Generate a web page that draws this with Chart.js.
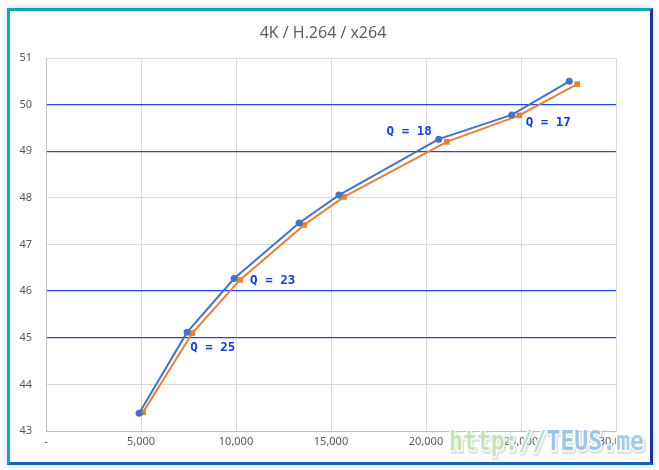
<!DOCTYPE html>
<html>
<head>
<meta charset="utf-8">
<script src="https://cdn.jsdelivr.net/npm/chart.js@4.4.0/dist/chart.umd.min.js"></script>
<style>
  body { margin: 0; background: #fff; }
  #wrap { position: relative; width: 659px; height: 470px; }
  #frame {
    position: absolute; left: 7px; top: 8px; width: 640px; height: 451px;
    border-style: solid; border-width: 3px 3px 3px 3px;
    border-color: #12a3b4 #22339a #1365c0 #0fa8d6;
    box-shadow: 0 0 6px rgba(0,150,200,0.35);
  }
  canvas { position: absolute; left: 0; top: 0; }
</style>
</head>
<body>
<div id="wrap">
  <div id="frame"></div>
  <canvas id="canva" width="659" height="470"></canvas>
</div>
<script>
const ctx = document.getElementById('canva');

// bitrate (x) / score (y)
var bitrateA = [4900, 7430, 9900, 13320, 15420, 20670, 24510, 27540];
var scoreA   = [43.38, 45.12, 46.27, 47.46, 48.06, 49.26, 49.78, 50.50];
var bitrateB = [5100, 7700, 10210, 13580, 15680, 21090, 24910, 27960];
var scoreB   = [43.40, 45.10, 46.24, 47.42, 48.02, 49.20, 49.77, 50.44];

// Q labels on the blue series
var qIndex = [1, 2, 5, 6];
var qText  = ['Q = 25', 'Q = 23', 'Q = 18', 'Q = 17'];

var blueLines = [45, 46, 49, 50];

function pts(xs, ys) {
    var out = [];
    for (let i = 0; i < xs.length; i++) out.push({x: xs[i], y: ys[i]});
    return out;
}

var qLabels = {
    id: 'qLabels',
    afterDatasetsDraw(chart) {
        var c = chart.ctx;
        var meta = chart.getDatasetMeta(0);
        // offsets of each label from its point
        var off = [[3, 16, 'left'], [16, 2, 'left'], [-7, -7, 'right'], [14, 8, 'left']];
        c.save();
        c.font = 'bold 12.5px "DejaVu Sans Mono"';
        c.fillStyle = '#1238f2';
        c.textBaseline = 'middle';
        for (let i = 0; i < qIndex.length; i++) {
            var p = meta.data[qIndex[i]];
            c.textAlign = off[i][2];
            c.fillText(qText[i], p.x + off[i][0], p.y + off[i][1]);
        }
        c.restore();
    }
};

var titleAndMark = {
    id: 'titleAndMark',
    afterDraw(chart) {
        var c = chart.ctx;
        c.save();
        c.font = '16px "Open Sans"';
        c.fillStyle = '#595959';
        c.textAlign = 'center';
        c.textBaseline = 'middle';
        c.fillText('4K / H.264 / x264', 323, 33);

        // watermark
        var parts = [['http', '#bfe3a8'], ['://', '#b0dcc4'], ['TEUS', '#92c0e6'], ['.me', '#9cc6ea']];
        c.font = 'bold 27px "DejaVu Sans Mono"';
        c.textAlign = 'left';
        var full = parts.map(p => p[0]).join('');
        var w = c.measureText(full).width;
        c.translate(449, 443);
        c.scale(195 / w, 1);
        var x = 0;
        c.globalAlpha = 0.9;
        c.lineJoin = 'round';
        parts.forEach(p => {
            c.lineWidth = 4;
            c.strokeStyle = 'rgba(190,190,190,0.5)';
            c.strokeText(p[0], x + 1.5, 1.5);
            c.lineWidth = 3;
            c.strokeStyle = '#ffffff';
            c.strokeText(p[0], x, 0);
            c.fillStyle = p[1];
            c.fillText(p[0], x, 0);
            x += c.measureText(p[0]).width;
        });
        c.restore();
    }
};

canva = new Chart(ctx, {
    type: 'line',
    data: {
        datasets: [{
            label: 'A',
            data: pts(bitrateA, scoreA),
            borderColor: '#4472c4',
            backgroundColor: '#4472c4',
            borderWidth: 2,
            pointStyle: 'circle',
            pointRadius: 3.5,
            pointBorderWidth: 0,
            tension: 0
        }, {
            label: 'B',
            data: pts(bitrateB, scoreB),
            borderColor: '#ed7d31',
            backgroundColor: '#ed7d31',
            borderWidth: 2,
            pointStyle: 'rect',
            pointRadius: 4,
            pointBorderWidth: 0,
            tension: 0
        }]
    },
    options: {
        responsive: false,
        animation: false,
        layout: { padding: { left: 0, right: 43, top: 58, bottom: 14 } },
        plugins: {
            legend: { display: false },
            tooltip: { enabled: false }
        },
        scales: {
            x: {
                type: 'linear',
                min: 0, max: 30000,
                afterFit(s) { s.height = 25; },
                ticks: {
                    stepSize: 5000,
                    color: '#595959',
                    font: { family: 'Noto Sans', size: 11 },
                    padding: 4,
                    maxRotation: 0,
                    callback: v => v === 0 ? '-' : v.toLocaleString('en-US')
                },
                grid: { color: '#d9d9d9', drawTicks: false },
                border: { color: '#bfbfbf' }
            },
            y: {
                min: 43, max: 51,
                afterFit(s) { s.width = 46; },
                ticks: {
                    stepSize: 1,
                    color: '#595959',
                    font: { family: 'Noto Sans', size: 11 },
                    padding: 14
                },
                grid: {
                    drawTicks: false,
                    color: c => blueLines.includes(c.tick.value) ? '#2244f2' : '#d9d9d9',
                    lineWidth: c => blueLines.includes(c.tick.value) ? 1.3 : 1
                },
                border: { color: '#bfbfbf' }
            }
        }
    },
    plugins: [qLabels, titleAndMark]
});
</script>
</body>
</html>
